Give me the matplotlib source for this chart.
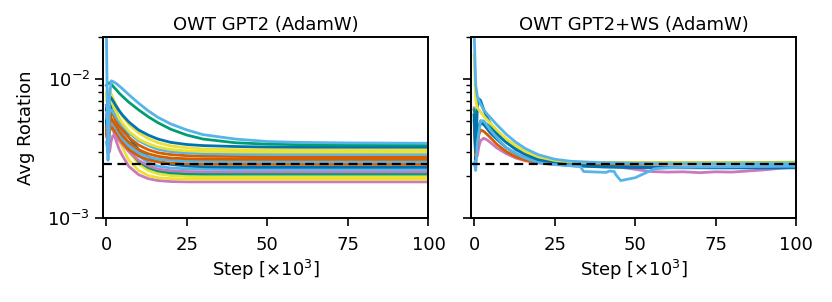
import numpy as np
import matplotlib
matplotlib.use("Agg")
from matplotlib import pyplot as plt

# colours (seaborn colorblind)
c_blue = '#0173B2'
c_orange = '#D55E00'
c_green = '#029E73'
c_pink = '#CC78BC'
c_yellow = '#ECE133'
c_lblue = '#56B4E9'

ref_level = 2.43e-3

# ---- left: OWT GPT2 (AdamW), values x1e-3
steps = [0, 0.5, 1, 1.5, 2, 3, 4, 5, 7, 10, 13, 16, 20, 25, 30, 40, 50, 60, 75, 100]

gpt2_lblue_a = [22, 2.6, 7.5, 9.7, 9.6, 9.3, 8.9, 8.5, 7.7, 6.7, 5.9, 5.3, 4.75, 4.3, 3.98, 3.7, 3.55, 3.5, 3.47, 3.45]
gpt2_green_a = [9.0, 9.3, 9.4, 9.2, 8.9, 8.4, 7.9, 7.5, 6.8, 6.0, 5.35, 4.85, 4.35, 3.95, 3.7, 3.48, 3.4, 3.37, 3.35, 3.35]
gpt2_blue_a = [6.0, 7.0, 7.5, 7.3, 7.0, 6.4, 5.9, 5.5, 4.9, 4.3, 3.95, 3.7, 3.5, 3.38, 3.32, 3.27, 3.24, 3.23, 3.23, 3.23]
gpt2_yellow_a = [8.0, 8.5, 8.3, 7.8, 7.3, 6.5, 5.9, 5.4, 4.7, 4.1, 3.72, 3.48, 3.3, 3.2, 3.14, 3.1, 3.09, 3.08, 3.08, 3.08]
gpt2_yellow_b = [7.5, 8.0, 7.6, 7.0, 6.5, 5.8, 5.2, 4.8, 4.2, 3.7, 3.42, 3.24, 3.11, 3.04, 3.01, 2.99, 2.98, 2.98, 2.98, 2.98]
gpt2_lblue_b = [5.5, 5.0, 5.8, 6.0, 5.8, 5.3, 4.9, 4.6, 4.1, 3.6, 3.32, 3.12, 3.0, 2.94, 2.9, 2.88, 2.87, 2.87, 2.87, 2.87]
gpt2_orange_a = [4.5, 4.0, 5.0, 5.8, 5.6, 5.0, 4.6, 4.3, 3.8, 3.35, 3.1, 2.95, 2.86, 2.81, 2.78, 2.77, 2.76, 2.76, 2.76, 2.76]
gpt2_orange_b = [4.0, 3.6, 4.8, 5.2, 5.0, 4.6, 4.2, 3.9, 3.5, 3.1, 2.9, 2.78, 2.7, 2.67, 2.65, 2.64, 2.64, 2.64, 2.64, 2.64]
gpt2_lblue_c = [3.5, 3.0, 4.5, 5.0, 4.8, 4.4, 4.0, 3.7, 3.3, 2.95, 2.75, 2.65, 2.6, 2.56, 2.55, 2.54, 2.54, 2.54, 2.54, 2.54]
gpt2_orange_c = [4.2, 3.5, 4.2, 4.5, 4.4, 4.1, 3.8, 3.5, 3.1, 2.8, 2.62, 2.53, 2.48, 2.45, 2.44, 2.43, 2.43, 2.43, 2.43, 2.43]
gpt2_blue_b = [5.0, 2.9, 4.5, 6.8, 6.6, 5.8, 5.1, 4.6, 3.8, 3.1, 2.75, 2.55, 2.43, 2.37, 2.34, 2.32, 2.32, 2.32, 2.32, 2.32]
gpt2_lblue_d = [4.5, 3.2, 5.0, 6.2, 6.0, 5.2, 4.6, 4.1, 3.4, 2.8, 2.5, 2.36, 2.29, 2.26, 2.25, 2.24, 2.24, 2.24, 2.24, 2.24]
gpt2_pink_a = [6.2, 4.0, 3.0, 3.6, 3.9, 3.8, 3.6, 3.4, 3.0, 2.6, 2.38, 2.25, 2.19, 2.16, 2.15, 2.15, 2.15, 2.15, 2.15, 2.15]
gpt2_green_b = [5.5, 3.5, 5.2, 6.5, 6.2, 5.2, 4.4, 3.8, 3.1, 2.55, 2.3, 2.18, 2.11, 2.08, 2.07, 2.07, 2.07, 2.07, 2.07, 2.07]
gpt2_yellow_c = [7.8, 8.3, 7.5, 6.6, 5.9, 4.9, 4.2, 3.7, 3.0, 2.45, 2.2, 2.08, 2.02, 1.99, 1.98, 1.98, 1.98, 1.98, 1.98, 1.98]
gpt2_yellow_d = [7.0, 7.5, 6.8, 6.0, 5.3, 4.3, 3.6, 3.2, 2.6, 2.2, 2.02, 1.95, 1.92, 1.9, 1.9, 1.9, 1.9, 1.9, 1.9, 1.9]
gpt2_pink_b = [6.5, 6.3, 5.6, 4.9, 4.4, 3.6, 3.1, 2.8, 2.35, 2.05, 1.92, 1.86, 1.83, 1.82, 1.82, 1.82, 1.82, 1.82, 1.82, 1.82]

left_series = [
    (c_pink, gpt2_pink_b), (c_yellow, gpt2_yellow_d), (c_yellow, gpt2_yellow_c),
    (c_green, gpt2_green_b), (c_pink, gpt2_pink_a), (c_lblue, gpt2_lblue_d),
    (c_blue, gpt2_blue_b), (c_orange, gpt2_orange_c), (c_lblue, gpt2_lblue_c),
    (c_orange, gpt2_orange_b), (c_orange, gpt2_orange_a), (c_lblue, gpt2_lblue_b),
    (c_yellow, gpt2_yellow_b), (c_yellow, gpt2_yellow_a), (c_blue, gpt2_blue_a),
    (c_green, gpt2_green_a), (c_lblue, gpt2_lblue_a),
]

# ---- right: OWT GPT2+WS (AdamW), values x1e-3
ws_blue_a = [5.5, 3.0, 6.3, 7.2, 7.0, 6.0, 5.3, 4.8, 4.1, 3.5, 3.1, 2.85, 2.62, 2.48, 2.4, 2.34, 2.32, 2.31, 2.3, 2.3]
ws_blue_b = [5.0, 2.6, 3.5, 4.5, 4.8, 4.7, 4.4, 4.1, 3.7, 3.2, 2.9, 2.7, 2.55, 2.45, 2.38, 2.33, 2.31, 2.3, 2.3, 2.3]
ws_orange = [5.5, 2.8, 3.4, 4.0, 4.3, 4.2, 4.0, 3.8, 3.4, 3.0, 2.75, 2.6, 2.5, 2.43, 2.42, 2.42, 2.43, 2.44, 2.45, 2.45]
ws_green = [6.0, 5.5, 4.0, 4.6, 5.0, 4.9, 4.7, 4.5, 4.0, 3.5, 3.15, 2.9, 2.7, 2.57, 2.52, 2.5, 2.5, 2.5, 2.5, 2.52]
ws_yellow = [15, 7.0, 6.2, 6.0, 5.8, 5.4, 5.1, 4.8, 4.3, 3.7, 3.3, 3.0, 2.75, 2.6, 2.53, 2.5, 2.5, 2.5, 2.5, 2.5]
ws_lblue = [22, 9.0, 7.5, 7.0, 6.6, 6.0, 5.6, 5.3, 4.7, 4.0, 3.5, 3.15, 2.85, 2.65, 2.56, 2.5, 2.47, 2.46, 2.46, 2.46]

ws_pink_steps = [0, 0.5, 1, 1.5, 2, 3, 4, 5, 7, 10, 13, 16, 20, 25, 30, 35, 40, 45, 50, 55,
                 60, 65, 70, 75, 80, 85, 90, 95, 100]
ws_pink = [6.2, 3.5, 2.8, 3.3, 3.6, 3.75, 3.65, 3.5, 3.2, 2.9, 2.7, 2.58, 2.5, 2.45, 2.44, 2.46, 2.4, 2.33, 2.24, 2.16,
           2.14, 2.15, 2.12, 2.15, 2.14, 2.18, 2.22, 2.28, 2.33]

ws_dip_steps = [0, 0.5, 1, 2, 3, 5, 7, 10, 15, 20, 25, 30, 33, 34, 41, 42, 43.5, 44, 45.5, 50,
                56, 60, 70, 80, 90, 100]
ws_dip = [2.5, 2.2, 3.5, 5.0, 5.0, 4.3, 3.8, 3.2, 2.75, 2.5, 2.42, 2.38, 2.34, 2.16, 2.13, 2.18, 2.16, 2.05, 1.86, 1.95,
          2.26, 2.3, 2.33, 2.34, 2.35, 2.36]

right_series = [
    (c_blue, ws_blue_b), (c_orange, ws_orange), (c_green, ws_green),
    (c_blue, ws_blue_a), (c_yellow, ws_yellow), (c_lblue, ws_lblue),
]

plt.rcParams['font.size'] = 13
plt.rcParams['axes.linewidth'] = 1.4

fig = plt.figure(figsize=(8.32, 3.02), dpi=100)
ax1 = fig.add_axes([0.124, 0.278, 0.391, 0.599])
ax2 = fig.add_axes([0.566, 0.278, 0.391, 0.599], sharey=ax1)

lw = 2.0
for col, vals in left_series:
    ax1.plot(steps, np.array(vals) * 1e-3, color=col, lw=lw)

ax2.plot(ws_pink_steps, np.array(ws_pink) * 1e-3, color=c_pink, lw=lw)
for col, vals in right_series:
    ax2.plot(steps, np.array(vals) * 1e-3, color=col, lw=lw)
ax2.plot(ws_dip_steps, np.array(ws_dip) * 1e-3, color=c_lblue, lw=lw)

for ax in (ax1, ax2):
    ax.axhline(ref_level, color='black', ls='--', lw=1.6, dashes=(4, 2.5))
    ax.set_yscale('log')
    ax.set_ylim(1e-3, 2e-2)
    ax.set_xlim(-1, 100)
    ax.set_xticks([0, 25, 50, 75, 100])
    ax.set_xlabel(r'Step [$\times10^3$]', labelpad=3)
    ax.tick_params(which='major', length=6, width=1.2)
    ax.tick_params(which='minor', length=3.5, width=1.0)
    ax.tick_params(axis='x', pad=7)

ax1.set_title('OWT GPT2 (AdamW)', fontsize=13, pad=5)
ax2.set_title('OWT GPT2+WS (AdamW)', fontsize=13, pad=5)
ax1.set_ylabel('Avg Rotation', labelpad=9)
ax2.tick_params(axis='y', which='both', labelleft=False)

fig.savefig('out.png', dpi=100)
